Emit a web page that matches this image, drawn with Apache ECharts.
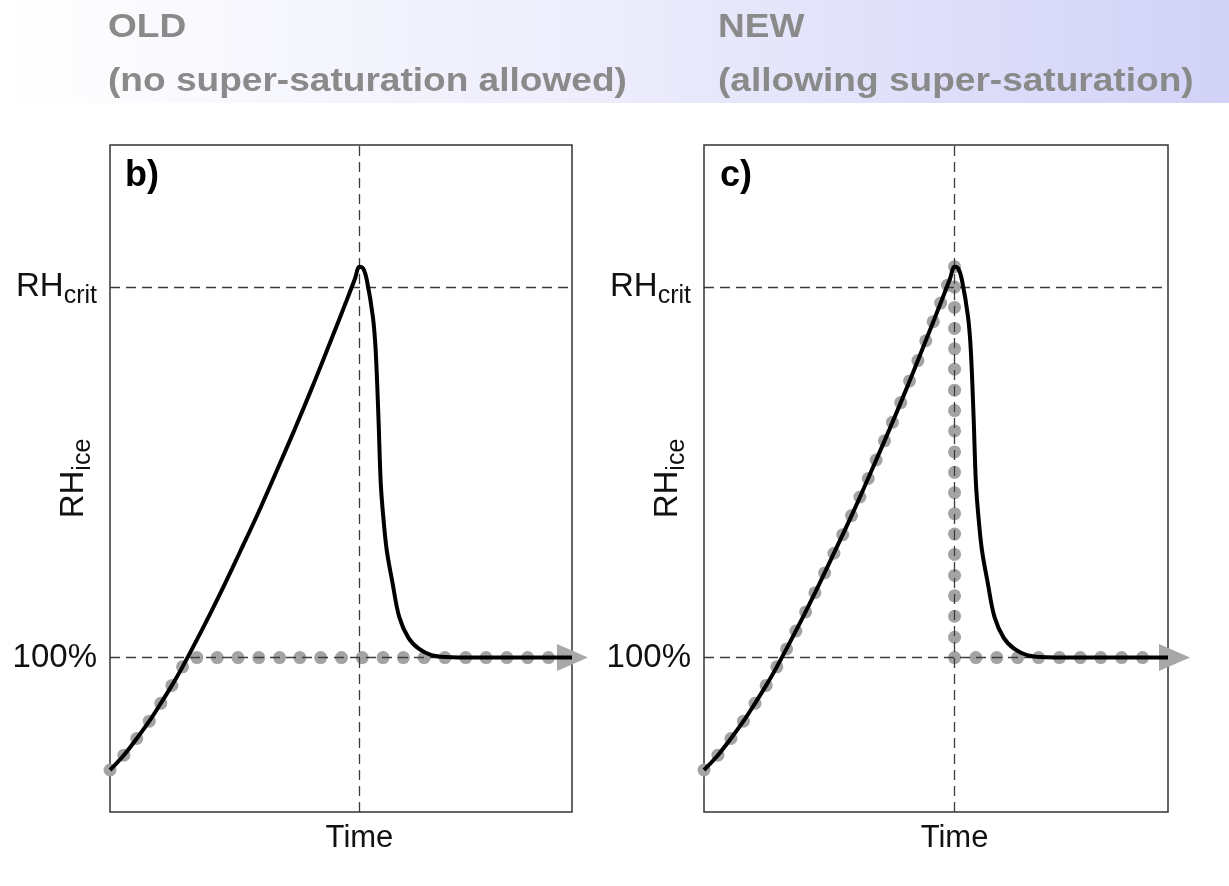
<!DOCTYPE html>
<html>
<head>
<meta charset="utf-8">
<script src="https://cdn.jsdelivr.net/npm/echarts@6/dist/echarts.min.js"></script>
<style>html,body{margin:0;padding:0;background:#fff}#c{width:1229px;height:886px}</style>
</head>
<body>
<div id="c"></div>
<script>
// ---- data (x: time in arbitrary units 0-100, y: RH_ice with 100 = 100%, 160 = RH_crit) ----
const headerTitles = ['OLD', 'NEW'];
const headerSubtitles = ['(no super-saturation allowed)', '(allowing super-saturation)'];
const panelLabels = ['b)', 'c)'];
const yTickValues = [100, 160];
const yTickLabels = ['100%', 'RH_crit'];
const timeTick = [54.0];
const freezeX = 54.0;

const curveX = [0, 3.0, 5.8, 8.5, 11.0, 13.4, 15.7, 20, 24, 28, 32, 36, 40, 44, 48, 51, 53.0, 54.0, 54.8, 55.6, 56.9, 57.5, 58.1, 58.6, 59.15, 59.9, 61.15, 62.6, 64.6, 66.9, 69.6, 72.5, 80, 90, 100];
const curveY = [81.8, 84.2, 86.9, 89.7, 92.6, 95.5, 98.5, 104.6, 110.6, 116.9, 123.3, 130.1, 137.0, 144.2, 151.7, 157.4, 161.3, 163.3, 163.0, 161.1, 155.2, 149.8, 139.0, 128.3, 122.8, 117.4, 112.1, 106.6, 103.2, 101.4, 100.4, 100.1, 100, 100, 100];

const oldDotsX = [0, 3.0, 5.8, 8.5, 11.0, 13.4, 15.7, 18.8, 23.2, 27.7, 32.2, 36.7, 41.1, 45.6, 50.1, 54.6, 59.1, 63.5, 68.0, 72.5, 77.0, 81.4, 85.9, 90.4, 94.9];
const oldDotsY = [81.8, 84.2, 86.9, 89.7, 92.6, 95.5, 98.5, 100, 100, 100, 100, 100, 100, 100, 100, 100, 100, 100, 100, 100, 100, 100, 100, 100, 100];

const newDotsX = [0, 3.0, 5.8, 8.5, 11.0, 13.4, 15.7, 17.8, 19.8, 21.9, 23.9, 26.0, 28.0, 29.9, 31.8, 33.6, 35.4, 37.1, 38.9, 40.6, 42.4, 44.3, 46.1, 47.8, 49.4, 51.0, 52.5, 54.0,
  54.0, 54.0, 54.0, 54.0, 54.0, 54.0, 54.0, 54.0, 54.0, 54.0, 54.0, 54.0, 54.0, 54.0, 54.0, 54.0, 54.0, 54.0, 54.0,
  58.6, 63.1, 67.6, 72.1, 76.6, 81.1, 85.5, 90.0, 94.5];
const newDotsY = [81.8, 84.2, 86.9, 89.7, 92.6, 95.5, 98.5, 101.4, 104.3, 107.4, 110.5, 113.7, 116.9, 119.9, 123.0, 126.0, 129.0, 132.0, 135.1, 138.1, 141.3, 144.8, 148.1, 151.3, 154.4, 157.4, 160.3, 163.3,
  160.0, 156.7, 153.3, 150.0, 146.7, 143.3, 140.0, 136.7, 133.3, 130.0, 126.7, 123.3, 120.0, 116.7, 113.3, 110.0, 106.7, 103.3, 100.0,
  100, 100, 100, 100, 100, 100, 100, 100, 100];

const arrowX = [100.1, 101.4];
const arrowY = [100, 100];

// ---- chart ----
const FONT = '"Liberation Sans", Arial, Helvetica, sans-serif';
const zip = (a, b) => a.map((v, i) => [v, b[i]]);
const chart = echarts.init(document.getElementById('c'), null, { renderer: 'canvas' });

const richSub = {
  m: { fontSize: 33, lineHeight: 44, color: '#111', fontFamily: FONT },
  s: { fontSize: 25, lineHeight: 22, verticalAlign: 'bottom', color: '#111', fontFamily: FONT }
};
const yLabelFmt = v => {
  const i = yTickValues.indexOf(v);
  const t = yTickLabels[i];
  if (t.indexOf('_') >= 0) { const p = t.split('_'); return '{m|' + p[0] + '}{s|' + p[1] + '}'; }
  return t;
};

const grids = [
  { left: 110, top: 145, width: 462, height: 667 },
  { left: 704, top: 145, width: 464, height: 667 }
].map(g => Object.assign(g, { show: true, borderColor: '#333', borderWidth: 1.5, backgroundColor: 'transparent', containLabel: false, outerBoundsMode: 'none' }));

const xAxes = [0, 1].map(i => ({
  type: 'value', gridIndex: i, min: 0, max: 100,
  axisLine: { show: false }, axisTick: { show: false }, splitLine: { show: false },
  axisLabel: { customValues: timeTick, formatter: () => 'Time', margin: 11, fontSize: 31, color: '#111', fontFamily: FONT }
}));
const yAxes = [0, 1].map(i => ({
  type: 'value', gridIndex: i, min: 75, max: 183,
  axisLine: { show: false }, axisTick: { show: false }, splitLine: { show: false },
  axisLabel: { customValues: yTickValues, formatter: yLabelFmt, margin: 13, fontSize: 33, color: '#111', fontFamily: FONT, rich: richSub },
  name: '{m|RH}{s|ice}', nameLocation: 'middle', nameRotate: 90, nameGap: 14, nameMoveOverlap: false,
  nameTextStyle: { rich: richSub }
}));

const dotsData = [zip(oldDotsX, oldDotsY), zip(newDotsX, newDotsY)];
const series = [];
[0, 1].forEach(i => {
  series.push({
    type: 'line', xAxisIndex: i, yAxisIndex: i, data: [], z: 3, silent: true,
    markLine: {
      silent: true, symbol: ['none', 'none'], animation: false,
      label: { show: false },
      lineStyle: { color: '#3c3c3c', width: 1.3, type: [10, 6] },
      data: [{ yAxis: yTickValues[0] }, { yAxis: yTickValues[1] }, { xAxis: freezeX }]
    }
  });
  series.push({
    type: 'scatter', xAxisIndex: i, yAxisIndex: i, data: dotsData[i], z: 2,
    symbol: 'circle', symbolSize: 13, itemStyle: { color: '#a3a3a3', opacity: 1 }, silent: true
  });
  series.push({
    type: 'scatter', xAxisIndex: i, yAxisIndex: i, data: [[arrowX[i], arrowY[i]]], z: 2, clip: false,
    symbol: 'triangle', symbolRotate: -90, symbolSize: [27, 31], itemStyle: { color: '#a8a8a8', opacity: 1 }, silent: true
  });
  series.push({
    type: 'line', xAxisIndex: i, yAxisIndex: i, data: zip(curveX, curveY), z: 5,
    showSymbol: false, smooth: 0.35, lineStyle: { color: '#000', width: 4 }, silent: true
  });
});

const hdrFont = 'bold 34px ' + FONT;
const graphic = [
  { type: 'rect', z: -10, shape: { x: 0, y: 0, width: 1229, height: 103 },
    style: { fill: new echarts.graphic.LinearGradient(0, 0, 1, 0, [
      { offset: 0, color: '#ffffff' }, { offset: 0.5, color: '#ececfc' }, { offset: 1, color: '#d2d2f8' }]) } },
  { type: 'text', x: 108, y: 28, scaleX: 1.09, style: { text: headerTitles[0], fill: '#8a8a8a', font: hdrFont, textVerticalAlign: 'middle' } },
  { type: 'text', x: 108, y: 82, scaleX: 1.09, style: { text: headerSubtitles[0], fill: '#8a8a8a', font: hdrFont, textVerticalAlign: 'middle' } },
  { type: 'text', x: 718, y: 28, scaleX: 1.09, style: { text: headerTitles[1], fill: '#8a8a8a', font: hdrFont, textVerticalAlign: 'middle' } },
  { type: 'text', x: 718, y: 82, scaleX: 1.09, style: { text: headerSubtitles[1], fill: '#8a8a8a', font: hdrFont, textVerticalAlign: 'middle' } },
  { type: 'text', x: 125, y: 176, style: { text: panelLabels[0], fill: '#000', font: 'bold 36px ' + FONT, textVerticalAlign: 'middle' } },
  { type: 'text', x: 720, y: 176, style: { text: panelLabels[1], fill: '#000', font: 'bold 36px ' + FONT, textVerticalAlign: 'middle' } }
];

chart.setOption({
  animation: false,
  backgroundColor: '#fff',
  textStyle: { fontFamily: FONT },
  graphic: graphic,
  grid: grids,
  xAxis: xAxes,
  yAxis: yAxes,
  series: series
});
</script>
</body>
</html>
